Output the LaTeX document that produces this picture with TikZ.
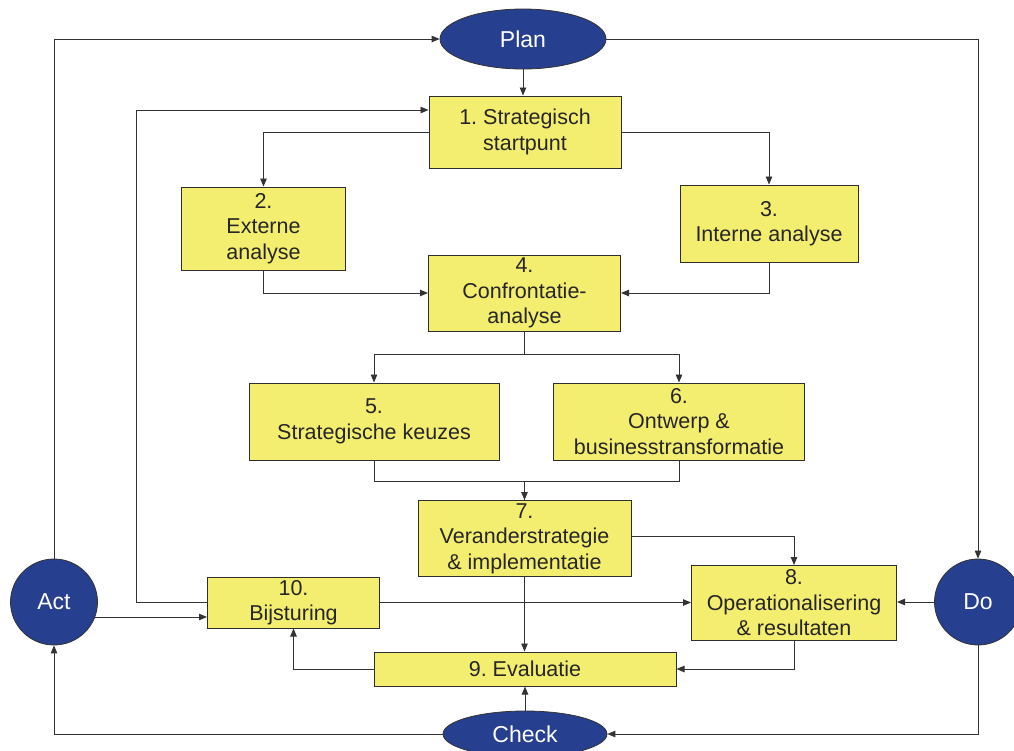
\documentclass[tikz,border=0pt]{standalone}
\usepackage{fontspec}
\setmainfont{Liberation Sans}
\usetikzlibrary{shapes.geometric,arrows.meta}
\definecolor{boxfill}{HTML}{F4EE70}
\definecolor{navy}{HTML}{263F8E}
\definecolor{linec}{HTML}{333333}
\begin{document}
\frenchspacing
\begin{tikzpicture}[x=1pt,y=-1pt,
  box/.style={draw=linec!90!black,line width=1pt,fill=boxfill,align=center,inner sep=0pt,
    font=\fontsize{21.5}{25.5}\selectfont\frenchspacing,text=black!85},
  pdca/.style={ellipse,draw=black!80,line width=0.8pt,fill=navy,inner sep=0pt,
    font=\fontsize{23}{26}\selectfont,text=white},
  arr/.style={draw=linec,line width=0.9pt,-{Triangle[length=8pt,width=6.5pt]}},
  ln/.style={draw=linec,line width=0.9pt}]
\useasboundingbox (0,0) rectangle (1014,750);
% PDCA ellipses
\node[pdca,minimum width=166,minimum height=60] (plan) at (523,39) {Plan};
\node[pdca,minimum width=87,minimum height=86] (act) at (54,602) {Act};
\node[pdca,minimum width=87,minimum height=86] (do) at (978,602) {Do};
\node[pdca,minimum width=164,minimum height=46,yshift=-0pt] (check) at (525,734) {Check};
% boxes
\node[box,minimum width=192,minimum height=72] (b1) at (525,132) {1. Strategisch\\startpunt};
\node[box,minimum width=164,minimum height=83] (b2) at (263.5,228.5) {2.\\Externe\\analyse};
\node[box,minimum width=178,minimum height=77] (b3) at (769,223.5) {3.\\Interne analyse};
\node[box,minimum width=192,minimum height=76] (b4) at (524.5,293) {4.\\Confrontatie-\\analyse};
\node[box,minimum width=250,minimum height=77] (b5) at (374,421.5) {5.\\Strategische keuzes};
\node[box,minimum width=251,minimum height=77] (b6) at (679,421.5) {6.\\Ontwerp \&\\businesstransformatie};
\node[box,minimum width=213,minimum height=76] (b7) at (524.5,538.5) {7.\\Veranderstrategie\\\& implementatie};
\node[box,minimum width=205,minimum height=75] (b8) at (794,603) {8.\\Operationalisering\\\& resultaten};
\node[box,minimum width=302,minimum height=34] (b9) at (525,669) {9. Evaluatie};
\node[box,minimum width=172,minimum height=51] (b10) at (293.5,602.5) {10.\\Bijsturing};
% PDCA cycle
\draw[arr] (act.north) |- (plan.west);
\draw[arr] (plan.east) -| (do.north);
\draw[arr] (do.south) |- (check.east);
\draw[arr] (check.west) -| (act.south);
\draw[arr] (plan.south) -- (plan.south |- b1.north);
\draw[arr] (check.north) -- (check.north |- b9.south);
\draw[arr] (do.west) -- (do.west -| b8.east);
\draw[arr] (act.-20) -- (act.-20 -| b10.west);
% process flow
\draw[arr] (b1.west) -| (b2.north);
\draw[arr] (b1.east) -| (b3.north);
\draw[arr] (b2.south) |- (b4.west);
\draw[arr] (b3.south) |- (b4.east);
\draw[arr] (b4.south) -- ++(0,23) -| (b5.north);
\draw[arr] (b4.south) -- ++(0,23) -| (b6.north);
\draw[ln] (b6.south) -- ++(0,21) -| (b7.north);
\draw[arr] (b5.south) -- ++(0,21) -| (b7.north);
\draw[arr] ([yshift=2]b7.east) -| (b8.north);
\draw[arr] (b7.south) -- (b7.south |- b9.north);
\draw[arr] (b8.south) |- (b9.east);
\draw[arr] (b9.west) -| (b10.south);
\draw[arr] (b10.east) -- (b10.east -| b8.west);
\draw[arr] (b10.west) -- ++(-71,0) |- ([yshift=22]b1.west);
\end{tikzpicture}
\end{document}
